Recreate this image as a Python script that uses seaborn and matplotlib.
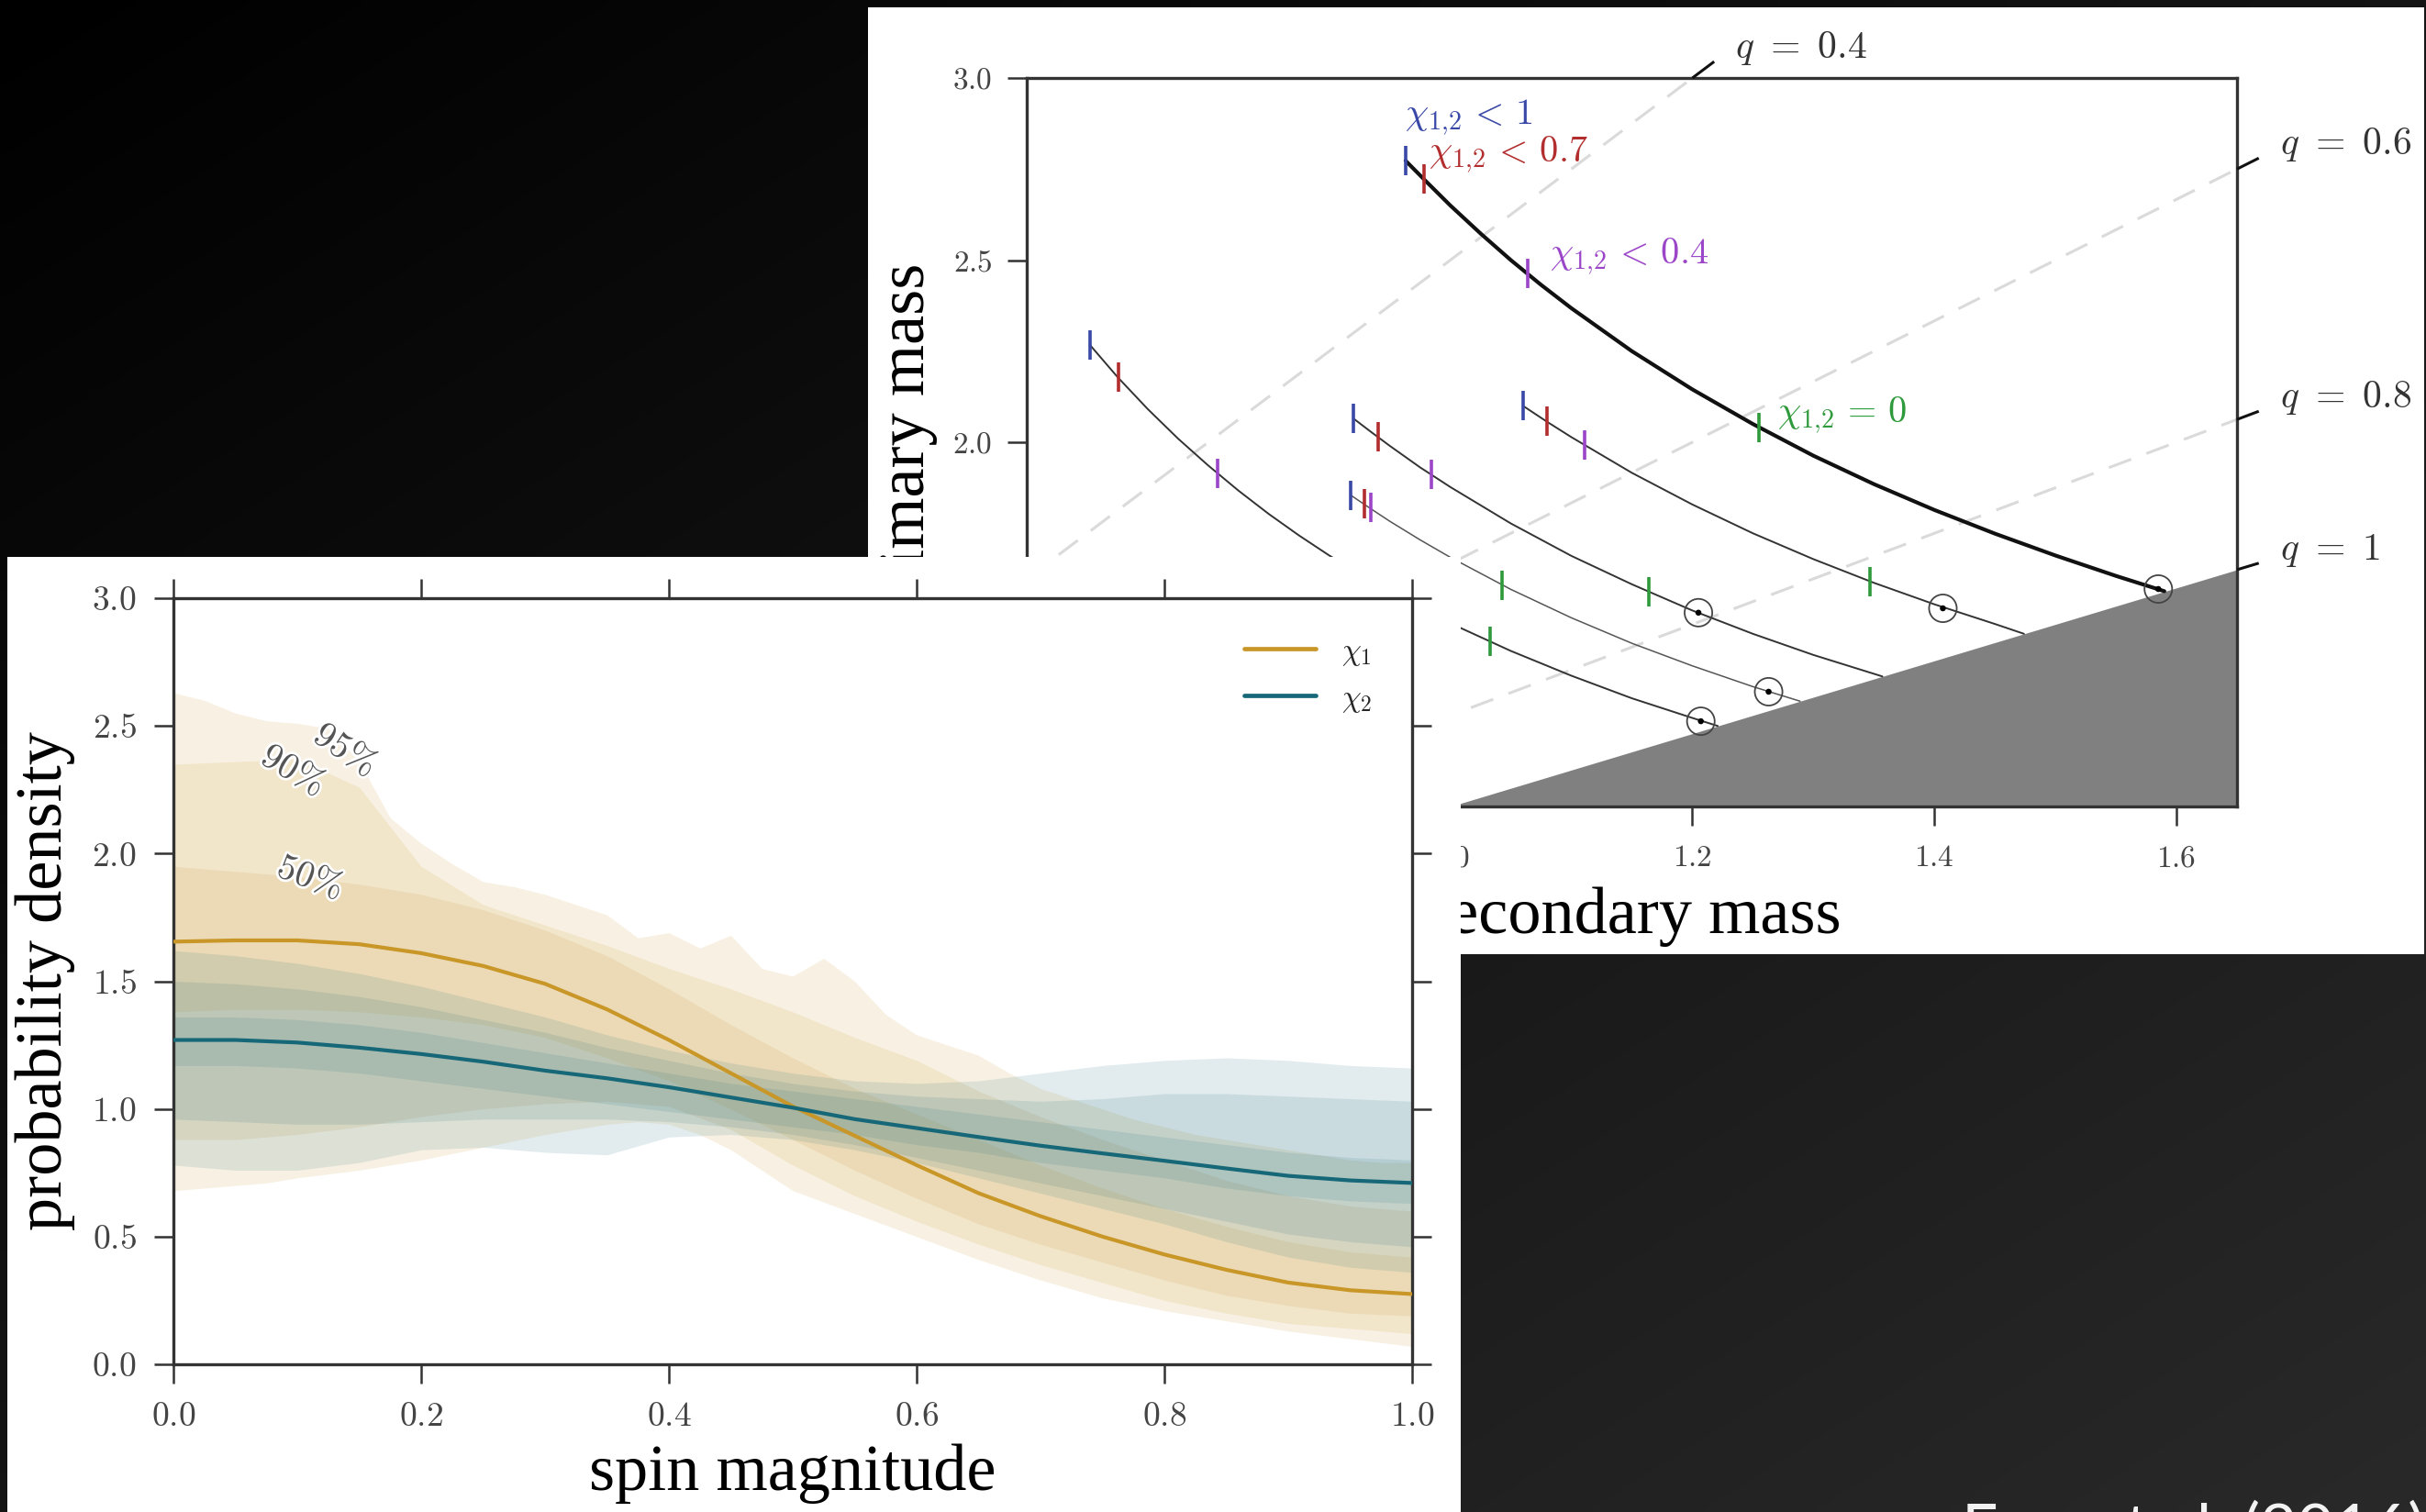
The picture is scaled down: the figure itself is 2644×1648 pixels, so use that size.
import numpy as np
import pandas as pd
import matplotlib
matplotlib.use("Agg")
import matplotlib.pyplot as plt
import matplotlib.patheffects as pe
from matplotlib.colors import LinearSegmentedColormap
import seaborn as sns

# ---------------------------------------------------------------- data
# Lower panel: spin-magnitude posterior (median + credible bands)
SPIN = [0.00, 0.05, 0.10, 0.15, 0.20, 0.25, 0.30, 0.35, 0.40, 0.45, 0.50,
        0.55, 0.60, 0.65, 0.70, 0.75, 0.80, 0.85, 0.90, 0.95, 1.00]

CHI1_MEDIAN = [1.655, 1.660, 1.660, 1.645, 1.610, 1.560, 1.490, 1.390, 1.270, 1.140, 1.010,
               0.895, 0.780, 0.670, 0.580, 0.500, 0.430, 0.370, 0.320, 0.290, 0.275]
CHI1_HI50 = [1.95, 1.93, 1.91, 1.88, 1.84, 1.78, 1.70, 1.60, 1.47, 1.33, 1.20,
             1.08, 0.98, 0.88, 0.78, 0.69, 0.61, 0.54, 0.48, 0.44, 0.42]
CHI1_LO50 = [1.38, 1.39, 1.39, 1.38, 1.36, 1.33, 1.28, 1.20, 1.11, 1.00, 0.88,
             0.76, 0.65, 0.55, 0.47, 0.40, 0.33, 0.27, 0.23, 0.20, 0.19]
CHI1_HI90 = [2.35, 2.36, 2.37, 2.26, 1.95, 1.80, 1.72, 1.64, 1.55, 1.47, 1.38,
             1.28, 1.19, 1.07, 0.97, 0.88, 0.80, 0.72, 0.66, 0.62, 0.60]
CHI1_LO90 = [0.88, 0.88, 0.90, 0.93, 0.97, 1.00, 1.02, 1.03, 1.01, 0.92, 0.78,
             0.66, 0.56, 0.47, 0.39, 0.32, 0.25, 0.20, 0.16, 0.14, 0.12]

# the 95% band of chi_1 is read on a finer grid (its edge is ragged)
SPIN_FINE = [0.000, 0.025, 0.050, 0.075, 0.100, 0.125, 0.150, 0.175, 0.200, 0.225,
             0.250, 0.275, 0.300, 0.325, 0.350, 0.375, 0.400, 0.425, 0.450, 0.475,
             0.500, 0.525, 0.550, 0.575, 0.600, 0.625, 0.650, 0.675, 0.700, 0.725,
             0.750, 0.775, 0.800, 0.825, 0.850, 0.875, 0.900, 0.925, 0.950, 0.975, 1.000]
CHI1_HI95 = [2.63, 2.60, 2.55, 2.52, 2.51, 2.49, 2.36, 2.14, 2.04, 1.96,
             1.89, 1.87, 1.84, 1.80, 1.76, 1.67, 1.69, 1.63, 1.68, 1.55,
             1.52, 1.59, 1.50, 1.37, 1.29, 1.25, 1.21, 1.14, 1.08, 1.04,
             1.00, 0.96, 0.93, 0.90, 0.88, 0.86, 0.84, 0.82, 0.80, 0.79, 0.79]
CHI1_LO95 = [0.68, 0.69, 0.70, 0.71, 0.73, 0.745, 0.76, 0.78, 0.80, 0.825,
             0.85, 0.875, 0.90, 0.92, 0.94, 0.95, 0.94, 0.90, 0.84, 0.76,
             0.68, 0.635, 0.59, 0.545, 0.50, 0.455, 0.41, 0.37, 0.33, 0.295,
             0.26, 0.235, 0.21, 0.19, 0.17, 0.15, 0.13, 0.115, 0.10, 0.085, 0.07]

CHI2_MEDIAN = [1.270, 1.270, 1.260, 1.240, 1.215, 1.185, 1.150, 1.120, 1.085, 1.045, 1.005,
               0.960, 0.925, 0.890, 0.856, 0.826, 0.797, 0.767, 0.738, 0.720, 0.710]
CHI2_HI50 = [1.36, 1.36, 1.35, 1.33, 1.30, 1.26, 1.22, 1.18, 1.14, 1.10, 1.07,
             1.04, 1.01, 0.98, 0.95, 0.92, 0.89, 0.86, 0.83, 0.81, 0.80]
CHI2_LO50 = [1.17, 1.17, 1.16, 1.14, 1.11, 1.08, 1.05, 1.02, 0.99, 0.96, 0.93,
             0.90, 0.86, 0.83, 0.79, 0.76, 0.73, 0.69, 0.66, 0.64, 0.63]
CHI2_HI90 = [1.50, 1.49, 1.47, 1.44, 1.40, 1.35, 1.30, 1.24, 1.19, 1.14, 1.10,
             1.07, 1.05, 1.04, 1.03, 1.04, 1.06, 1.06, 1.05, 1.04, 1.03]
CHI2_LO90 = [0.96, 0.95, 0.94, 0.94, 0.95, 0.96, 0.96, 0.96, 0.95, 0.93, 0.90,
             0.86, 0.81, 0.76, 0.71, 0.66, 0.61, 0.56, 0.51, 0.48, 0.46]
CHI2_HI95 = [1.62, 1.60, 1.57, 1.53, 1.48, 1.42, 1.36, 1.29, 1.23, 1.18, 1.14,
             1.11, 1.10, 1.11, 1.14, 1.17, 1.19, 1.20, 1.19, 1.17, 1.16]
CHI2_LO95 = [0.78, 0.76, 0.76, 0.79, 0.84, 0.85, 0.83, 0.82, 0.89, 0.90, 0.88,
             0.84, 0.79, 0.73, 0.67, 0.61, 0.55, 0.48, 0.42, 0.38, 0.36]

SERIES_NAMES = [r"$\chi_1$", r"$\chi_2$"]
BAND_LABELS = [r"$95\%$", r"$90\%$", r"$50\%$"]
SPIN_TICKS = [0.0, 0.2, 0.4, 0.6, 0.8, 1.0]
SPIN_TICK_LABELS = ["0.0", "0.2", "0.4", "0.6", "0.8", "1.0"]
DENS_TICKS = [0.0, 0.5, 1.0, 1.5, 2.0, 2.5, 3.0]
DENS_TICK_LABELS = ["0.0", "0.5", "1.0", "1.5", "2.0", "2.5", "3.0"]

# Upper panel: component masses along constant-chirp-mass tracks
CURVE_A_M2 = [0.963, 0.980, 1.000, 1.025, 1.050, 1.075, 1.100, 1.150, 1.200, 1.250, 1.300,
              1.350, 1.400, 1.450, 1.500, 1.550, 1.590]
CURVE_A_M1 = [2.773, 2.716, 2.650, 2.573, 2.500, 2.432, 2.368, 2.250, 2.145, 2.050, 1.963,
              1.885, 1.814, 1.749, 1.689, 1.633, 1.591]
CURVE_B_M2 = [0.702, 0.725, 0.750, 0.775, 0.800, 0.825, 0.850, 0.875, 0.900, 0.925, 0.950,
              1.000, 1.050, 1.100, 1.150, 1.200, 1.221]
CURVE_B_M1 = [2.268, 2.179, 2.091, 2.010, 1.936, 1.867, 1.803, 1.744, 1.689, 1.638, 1.590,
              1.503, 1.427, 1.359, 1.297, 1.243, 1.221]
CURVE_C_M2 = [0.920, 0.935, 0.950, 0.975, 1.000, 1.050, 1.100, 1.150, 1.200, 1.250, 1.300, 1.357]
CURVE_C_M1 = [2.065, 2.027, 1.990, 1.931, 1.877, 1.777, 1.688, 1.610, 1.538, 1.474, 1.416, 1.357]
CURVE_D_M2 = [0.918, 0.934, 0.950, 0.975, 1.000, 1.050, 1.100, 1.150, 1.200, 1.250, 1.289]
CURVE_D_M1 = [1.854, 1.818, 1.783, 1.732, 1.684, 1.596, 1.518, 1.448, 1.386, 1.329, 1.289]
CURVE_E_M2 = [1.060, 1.080, 1.100, 1.150, 1.200, 1.250, 1.300, 1.350, 1.400, 1.450, 1.474]
CURVE_E_M1 = [2.100, 2.056, 2.014, 1.916, 1.829, 1.750, 1.679, 1.614, 1.555, 1.501, 1.474]

# spin-limit markers on the tracks (curves A..E)
LIMIT_CHI1_M2 = [0.963, 0.702, 0.920, 0.918, 1.060]
LIMIT_CHI1_M1 = [2.773, 2.268, 2.065, 1.854, 2.100]
LIMIT_CHI07_M2 = [0.978, 0.726, 0.940, 0.929, 1.080]
LIMIT_CHI07_M1 = [2.723, 2.179, 2.015, 1.830, 2.057]
LIMIT_CHI04_M2 = [1.064, 0.808, 0.984, 0.934, 1.111]
LIMIT_CHI04_M1 = [2.463, 1.915, 1.913, 1.820, 1.992]
LIMIT_CHI0_M2 = [1.255, 1.033, 1.164, 1.043, 1.347]
LIMIT_CHI0_M1 = [2.041, 1.453, 1.590, 1.608, 1.618]
LIMIT_LABELS = [r"$\chi_{1{,}2}\,<\,1$", r"$\chi_{1{,}2}\,<\,0.7$",
                r"$\chi_{1{,}2}\,<\,0.4$", r"$\chi_{1{,}2}\,=\,0$"]

TRUE_M2 = [1.585, 1.207, 1.205, 1.263, 1.407]
TRUE_M1 = [1.597, 1.234, 1.532, 1.315, 1.544]

Q_VALUES = [0.4, 0.6, 0.8, 1.0]
Q_LABELS = [r"$q\ =\ 0.4$", r"$q\ =\ 0.6$", r"$q\ =\ 0.8$", r"$q\ =\ 1$"]
MASS_XTICKS = [0.8, 1.0, 1.2, 1.4, 1.6]
MASS_XTICK_LABELS = ["0.8", "1.0", "1.2", "1.4", "1.6"]
MASS_YTICKS = [1.0, 1.5, 2.0, 2.5, 3.0]
MASS_YTICK_LABELS = ["1.0", "1.5", "2.0", "2.5", "3.0"]

CREDIT = "Farr et al. (2016)"

# ---------------------------------------------------------------- style
W, H, DPI = 2644, 1648, 100
GOLD = "#c99628"
TEAL = "#166878"
BLUE, RED, PURPLE, GREEN = "#3a48a8", "#b22e2e", "#9b45c8", "#2f9a3c"
SPINE = "#333333"

sns.set_style("ticks")
plt.rcParams["font.family"] = ["Liberation Serif", "DejaVu Serif"]
plt.rcParams["mathtext.fontset"] = "cm"

fig = plt.figure(figsize=(W / DPI, H / DPI), dpi=DPI)


def box(x0, y0, x1, y1):
    return [x0 / W, 1 - y1 / H, (x1 - x0) / W, (y1 - y0) / H]


def blank(rect, z):
    a = fig.add_axes(rect, zorder=z)
    a.set_facecolor("white")
    a.set_xticks([])
    a.set_yticks([])
    for s in a.spines.values():
        s.set_visible(False)
    return a


# slide background gradient
bg = fig.add_axes([0, 0, 1, 1], zorder=0)
bg.set_axis_off()
yy, xx = np.mgrid[0:1:240j, 0:1:380j]
bg.imshow((xx + yy) / 2, cmap=LinearSegmentedColormap.from_list("slide", ["#000000", "#292929"]),
          vmin=0, vmax=1, extent=[0, 1, 0, 1], origin="upper", aspect="auto", interpolation="bilinear")

# ================================================================ upper panel
blank(box(946, 8, 2642, 1040), 1)
ax1 = fig.add_axes(box(1119, 85, 2438, 879), zorder=2)
ax1.set_facecolor("white")
XMIN, XMAX, YMIN, YMAX = 0.65, 1.65, 1.0, 3.0
ax1.set_xlim(XMIN, XMAX)
ax1.set_ylim(YMIN, YMAX)

for q in Q_VALUES[:-1]:
    ax1.axline((0, 0), slope=1 / q, color="#dadada", lw=2.2, ls=(0, (8.5, 5.8)), zorder=1)

qe = Q_VALUES[-1]
ax1.fill_between([YMIN * qe, XMAX], [YMIN, YMIN], [YMIN, XMAX / qe],
                 color="#808080", lw=0, zorder=2)

for q, lab in zip(Q_VALUES, Q_LABELS):
    if XMAX / q <= YMAX:
        x0, y0 = XMAX, XMAX / q
    else:
        x0, y0 = YMAX * q, YMAX
    d = 0.018
    x1, y1 = x0 + d, y0 + d / q
    ax1.plot([x0, x1], [y0, y1], color="#111111", lw=2.2, clip_on=False,
             solid_capstyle="butt", zorder=6)
    ax1.annotate(lab, xy=(x1, y1), xytext=(23, 4), textcoords="offset pixels",
                 fontsize=30, color="#333333", ha="left", va="baseline",
                 annotation_clip=False)

curves = [(CURVE_A_M2, CURVE_A_M1, 3.0, "#111111"),
          (CURVE_B_M2, CURVE_B_M1, 1.4, "#333333"),
          (CURVE_C_M2, CURVE_C_M1, 1.4, "#333333"),
          (CURVE_D_M2, CURVE_D_M1, 1.1, "#555555"),
          (CURVE_E_M2, CURVE_E_M1, 1.4, "#333333")]
for m2, m1, lw, col in curves:
    sns.lineplot(x=m2, y=m1, ax=ax1, color=col, lw=lw, sort=False,
                 estimator=None, legend=False, zorder=3)

for m2, m1, col in [(LIMIT_CHI1_M2, LIMIT_CHI1_M1, BLUE),
                    (LIMIT_CHI07_M2, LIMIT_CHI07_M1, RED),
                    (LIMIT_CHI04_M2, LIMIT_CHI04_M1, PURPLE),
                    (LIMIT_CHI0_M2, LIMIT_CHI0_M1, GREEN)]:
    sns.scatterplot(x=m2, y=m1, ax=ax1, marker="|", s=540, linewidth=2.6,
                    color=col, legend=False, zorder=4)

ax1.scatter(TRUE_M2, TRUE_M1, s=470, facecolors="none", edgecolors="#444444",
            linewidths=1.3, zorder=5)
sns.scatterplot(x=TRUE_M2, y=TRUE_M1, ax=ax1, s=22, color="black",
                edgecolor="none", legend=False, zorder=6)

label_pos = [(0.962, 2.872), (0.982, 2.770), (1.082, 2.490), (1.270, 2.055)]
for (x, y), lab, col in zip(label_pos, LIMIT_LABELS, [BLUE, RED, PURPLE, GREEN]):
    ax1.text(x, y, lab, color=col, fontsize=29, ha="left", va="baseline", zorder=7)

ax1.set_xticks(MASS_XTICKS, labels=[f"${t}$" for t in MASS_XTICK_LABELS])
ax1.set_yticks(MASS_YTICKS, labels=[f"${t}$" for t in MASS_YTICK_LABELS])
ax1.tick_params(axis="both", direction="out", length=15, width=1.8, color=SPINE,
                labelsize=24, labelcolor="#444444")
ax1.tick_params(axis="x", pad=15)
ax1.tick_params(axis="y", pad=12)
for s in ax1.spines.values():
    s.set_visible(True)
    s.set_color(SPINE)
    s.set_linewidth(2.4)
ax1.set_xlabel("secondary mass", fontsize=52, color="black")
ax1.set_ylabel("primary mass", fontsize=52, color="black")
ax1.xaxis.set_label_coords(0.5, -0.11)
ax1.yaxis.set_label_coords(-0.0735, 0.5)

# ================================================================ lower panel
blank(box(8, 607, 1592, 1648), 3)
ax2 = fig.add_axes(box(189, 652, 1539, 1487), zorder=4)
ax2.set_facecolor("white")
ax2.set_xlim(0, 1)
ax2.set_ylim(0, 3)

ax2.fill_between(SPIN_FINE, CHI1_LO95, CHI1_HI95, color=GOLD, alpha=0.13, lw=0, zorder=1)
for lo, hi in [(CHI1_LO90, CHI1_HI90), (CHI1_LO50, CHI1_HI50)]:
    ax2.fill_between(SPIN, lo, hi, color=GOLD, alpha=0.13, lw=0, zorder=1)
for lo, hi in [(CHI2_LO95, CHI2_HI95), (CHI2_LO90, CHI2_HI90), (CHI2_LO50, CHI2_HI50)]:
    ax2.fill_between(SPIN, lo, hi, color=TEAL, alpha=0.12, lw=0, zorder=2)

df = pd.DataFrame({
    "spin": SPIN + SPIN,
    "density": CHI1_MEDIAN + CHI2_MEDIAN,
    "series": [SERIES_NAMES[0]] * len(SPIN) + [SERIES_NAMES[1]] * len(SPIN),
})
sns.lineplot(data=df, x="spin", y="density", hue="series", palette=[GOLD, TEAL],
             lw=3.0, estimator=None, ax=ax2, zorder=5)
sns.move_legend(ax2, "upper right", title=None, frameon=False, fontsize=24,
                handlelength=2.35, handletextpad=0.85, labelspacing=0.55,
                borderaxespad=0.9)
for h in ax2.get_legend().legend_handles:
    h.set_linewidth(3.4)

for (x, y, rot), lab in zip([(0.138, 2.40, -34), (0.096, 2.32, -31), (0.110, 1.90, -21)], BAND_LABELS):
    ax2.text(x, y, lab, rotation=rot, rotation_mode="anchor", ha="center", va="center",
             fontsize=29, color="#555555", zorder=8,
             path_effects=[pe.withStroke(linewidth=4, foreground="white")])

ax2.set_xticks(SPIN_TICKS, labels=[f"${t}$" for t in SPIN_TICK_LABELS])
ax2.set_yticks(DENS_TICKS, labels=[f"${t}$" for t in DENS_TICK_LABELS])
ax2.tick_params(axis="both", direction="out", length=15, width=1.8, color=SPINE,
                top=True, right=True, labelsize=27, labelcolor="#444444", pad=14)
for s in ax2.spines.values():
    s.set_visible(True)
    s.set_color(SPINE)
    s.set_linewidth(2.4)
ax2.set_xlabel("spin magnitude", fontsize=52, color="black")
ax2.set_ylabel("probability density", fontsize=52, color="black")
ax2.xaxis.set_label_coords(0.5, -0.103)
ax2.yaxis.set_label_coords(-0.079, 0.5)

# credit line (cut by the slide edge)
fig.text(2138 / W, 1 - 1636 / H, CREDIT, fontsize=50, color="#f2f2f2",
         family=["Lato", "DejaVu Sans"], ha="left", va="top", zorder=20)

fig.savefig("out.png", dpi=DPI)
